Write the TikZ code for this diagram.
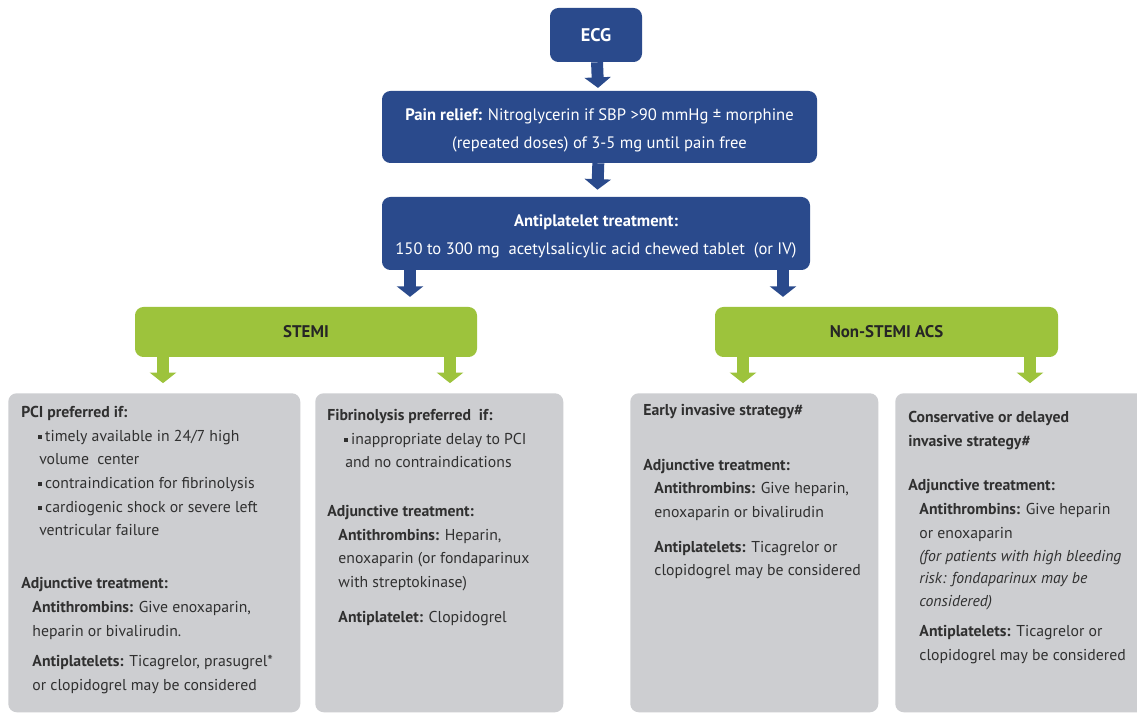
\documentclass[tikz,border=0pt]{standalone}
\usepackage{fontspec}
\setmainfont{PT Sans}
\usetikzlibrary{arrows.meta}

\definecolor{acsblue}{RGB}{42,74,140}
\definecolor{acsgreen}{RGB}{157,195,60}
\definecolor{acsgray}{RGB}{205,206,209}
\definecolor{acstext}{RGB}{48,48,48}

% small square bullet and indents for the grey boxes
\newcommand{\sqb}{\raisebox{0.3ex}{\rule{2.8pt}{2.8pt}}\hspace{2pt}}
\newcommand{\bul}{\hspace*{0.43cm}\sqb}
\newcommand{\cont}{\hspace*{0.45cm}}
\newcommand{\sub}{\hspace*{0.28cm}}

\begin{document}
\begin{tikzpicture}[x=0.025cm,y=-0.025cm,
    sz/.style 2 args={minimum width=#1*0.025cm,minimum height=#2*0.025cm},
    bluebox/.style={fill=acsblue,rounded corners=6pt,inner sep=0pt,text=white,
      align=center,font=\fontsize{11.8}{19.8}\selectfont},
    twoline/.style={text height=32.5pt},
    greenbox/.style={fill=acsgreen,rounded corners=6pt,inner sep=0pt,
      text=black!85,font=\bfseries\fontsize{12}{14}\selectfont},
    graybox/.style={fill=acsgray,rounded corners=6pt,inner sep=0pt,anchor=north west},
    boxtext/.style={anchor=north west,inner sep=0pt,align=left,text=acstext,
      font=\fontsize{11.2}{16.8}\selectfont},
    blockarrow/.style={line width=8.5pt,-{Triangle[width=18.5pt,length=7.5pt]}}]
  \useasboundingbox (0,0) rectangle (1137,714);
  \clip (0,0) rectangle (1137,714);
  \fill[white] (0,0) rectangle (1137,714);

  % top chain
  \draw
    (596,35) node[bluebox,sz={92}{54},font=\bfseries\fontsize{13}{15}\selectfont] (ecg){ECG}
    (599.5,127) node[bluebox,twoline,sz={435}{72}] (pain){\textbf{Pain relief:} Nitroglycerin if SBP >90 mmHg ± morphine\\
      (repeated doses) of 3-5 mg until pain free}
    (596,233.5) node[bluebox,twoline,sz={428}{73}] (anti){\textbf{Antiplatelet treatment:}\\
      150 to 300 mg\ \ acetylsalicylic acid chewed tablet\ \ (or IV)}
    (306,332) node[greenbox,sz={342}{50}] (stemi){STEMI}
    (886.5,332) node[greenbox,sz={343}{50}] (nstemi){Non-STEMI ACS};

  % grey boxes
  \node[graybox,sz={292}{319}] (pci) at (8,393) {};
  \node[graybox,sz={248}{319}] (fib) at (315,393) {};
  \node[graybox,sz={248}{319}] (early) at (630,393) {};
  \node[graybox,sz={262}{319}] (cons) at (895,393) {};

  \node[boxtext] (pcitxt) at (21,406) {\textbf{PCI preferred if:}\\
    \bul timely available in 24/7 high\\
    \cont volume\ \ center\\
    \bul contraindication for fibrinolysis\\
    \bul cardiogenic shock or severe left\\
    \cont ventricular failure\\[21pt]
    \textbf{Adjunctive treatment:}\\
    \sub\textbf{Antithrombins:} Give enoxaparin,\\
    \sub heparin or bivalirudin.\\[5pt]
    \sub\textbf{Antiplatelets:} Ticagrelor, prasugrel*\\
    \sub or clopidogrel may be considered};
  \node[boxtext] (fibtxt) at (327,409) {\textbf{Fibrinolysis preferred\ \ if:}\\
    \bul inappropriate delay to PCI\\
    \cont and no contraindications\\[18pt]
    \textbf{Adjunctive treatment:}\\
    \sub\textbf{Antithrombins:} Heparin,\\
    \sub enoxaparin (or fondaparinux\\
    \sub with streptokinase)\\[8pt]
    \sub\textbf{Antiplatelet:} Clopidogrel};
  \node[boxtext] (earlytxt) at (643,404) {\textbf{Early invasive strategy\#}\\[22pt]
    \textbf{Adjunctive treatment:}\\
    \sub\textbf{Antithrombins:} Give heparin,\\
    \sub enoxaparin or bivalirudin\\[8pt]
    \sub\textbf{Antiplatelets:} Ticagrelor or\\
    \sub clopidogrel may be considered};
  \node[boxtext] (constxt) at (908,411) {\textbf{Conservative or delayed}\\
    \textbf{invasive strategy\#}\\[15pt]
    \textbf{Adjunctive treatment:}\\
    \sub\textbf{Antithrombins:} Give heparin\\
    \sub or enoxaparin\\
    \sub\textit{(for patients with high bleeding}\\[-1pt]
    \sub\textit{risk: fondaparinux may be}\\[-1pt]
    \sub\textit{considered)}\\[5pt]
    \sub\textbf{Antiplatelets:} Ticagrelor or\\
    \sub clopidogrel may be considered};

  % arrow columns
  \coordinate (xa) at (410,0);
  \coordinate (xb) at (783,0);
  \coordinate (xc) at (163,0);
  \coordinate (xd) at (450,0);
  \coordinate (xe) at (743,0);
  \coordinate (xf) at (1030,0);

  \begin{scope}[blockarrow,acsblue]
    \draw[shorten >=2pt] (ecg) to (pain);
    \draw[shorten >=5pt] (pain) to (anti);
    \draw[shorten >=7pt] (xa |- anti.south) to (xa |- stemi.north);
    \draw[shorten >=7pt] (xb |- anti.south) to (xb |- nstemi.north);
  \end{scope}
  \begin{scope}[blockarrow,acsgreen]
    \draw[shorten >=7pt] (xc |- stemi.south) to (xc |- pci.north);
    \draw[shorten >=7pt] (xd |- stemi.south) to (xd |- fib.north);
    \draw[shorten >=7pt] (xe |- nstemi.south) to (xe |- early.north);
    \draw[shorten >=7pt] (xf |- nstemi.south) to (xf |- cons.north);
  \end{scope}
\end{tikzpicture}
\end{document}
